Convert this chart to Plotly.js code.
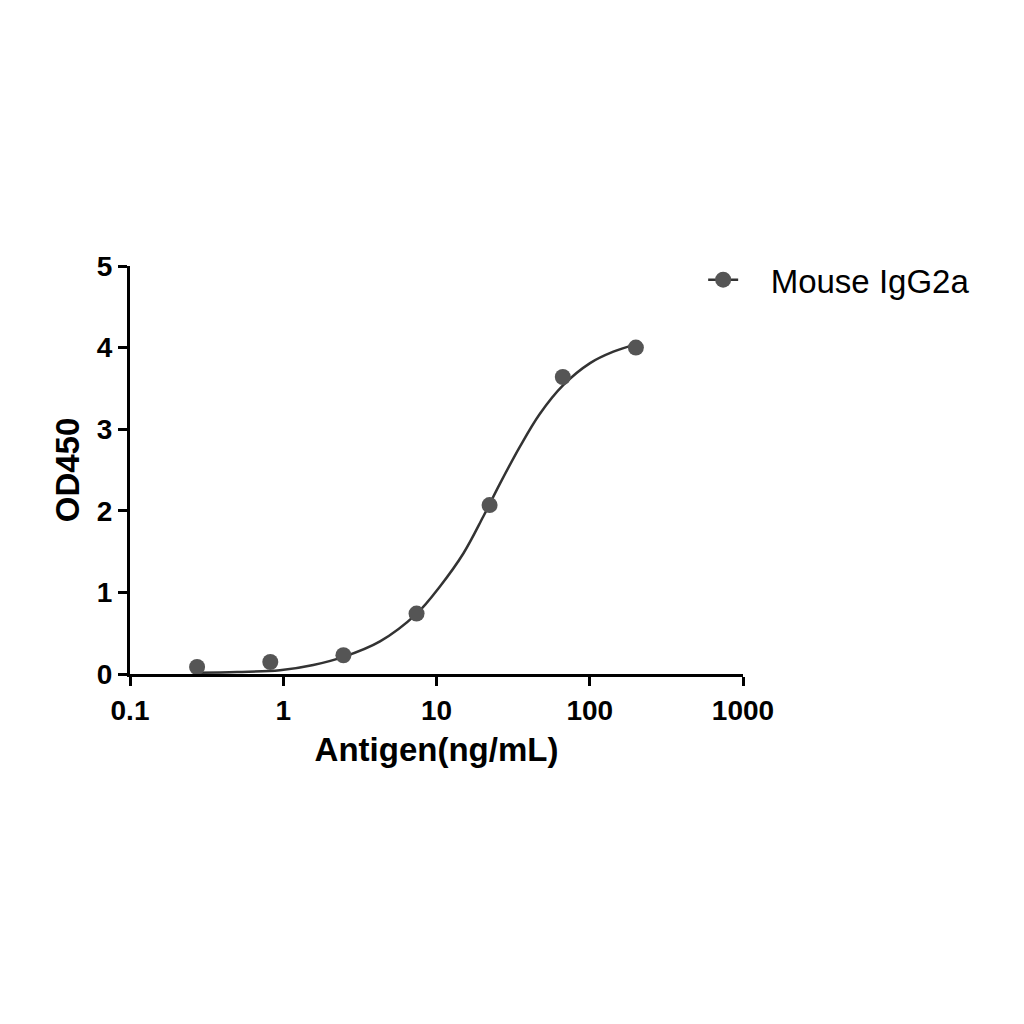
<!DOCTYPE html>
<html>
<head>
<meta charset="utf-8">
<script src="https://cdn.plot.ly/plotly-3.0.1.min.js"></script>
<style>
  html, body { margin: 0; padding: 0; background: #fff; }
  #chart { width: 1024px; height: 1024px; }
</style>
</head>
<body>
<div id="chart"></div>
<script>
// measured points (3-fold dilutions)
var conc = [0.274, 0.823, 2.47, 7.41, 22.2, 66.7, 200];
var od = [0.086, 0.147, 0.23, 0.74, 2.07, 3.64, 4.0];

// fitted curve
var fitX = [0.27, 0.5, 0.95, 1.57, 2.47, 4.28, 7.43, 10.5, 15.0, 20.2, 25.9, 35.1, 47.3, 67.1, 100.5, 142.6, 200];
var fitY = [0.015, 0.025, 0.045, 0.11, 0.21, 0.40, 0.74, 1.07, 1.48, 1.93, 2.33, 2.79, 3.19, 3.54, 3.81, 3.95, 4.04];

var xTicks = [0.1, 1, 10, 100, 1000];
var xTickText = ['0.1', '1', '10', '100', '1000'];
var yTicks = [0, 1, 2, 3, 4, 5];

var seriesName = 'Mouse IgG2a';

var curve = {
  x: fitX, y: fitY,
  type: 'scatter', mode: 'lines',
  line: {color: '#333333', width: 2.5, shape: 'spline', smoothing: 1},
  showlegend: false, hoverinfo: 'skip'
};

var pts = {
  x: conc, y: od,
  type: 'scatter', mode: 'markers',
  marker: {color: '#555555', size: 16},
  showlegend: false
};

// legend entry only (line + marker); nbsp's give the gap before the text
var key = {
  x: [null], y: [null],
  type: 'scatter', mode: 'lines+markers',
  name: '\u00a0\u00a0\u00a0' + seriesName,
  line: {color: '#333333', width: 2.5},
  marker: {color: '#555555', size: 16}
};

var fam = 'Liberation Sans, Arial, sans-serif';
var tickFont = {family: fam, size: 28, color: '#000', weight: 'bold'};
var titleFont = {family: fam, size: 33, color: '#000', weight: 'bold'};

var layout = {
  width: 1024, height: 1024,
  margin: {l: 130, r: 281, t: 266, b: 350},
  paper_bgcolor: '#fff', plot_bgcolor: '#fff',
  font: {family: fam, color: '#000'},
  xaxis: {
    type: 'log', range: [-1, 3],
    tickvals: xTicks, ticktext: xTickText,
    showgrid: false, zeroline: false,
    showline: true, linecolor: '#000', linewidth: 3,
    ticks: 'outside', ticklen: 9, tickwidth: 3, tickcolor: '#000',
    tickfont: tickFont,
    title: {text: 'Antigen(ng/mL)', font: titleFont, standoff: 14}
  },
  yaxis: {
    range: [0, 5],
    tickvals: yTicks,
    showgrid: false, zeroline: false,
    showline: true, linecolor: '#000', linewidth: 3,
    ticks: 'outside', ticklen: 9, tickwidth: 3, tickcolor: '#000',
    tickfont: tickFont,
    title: {text: 'OD450', font: titleFont, standoff: 8}
  },
  legend: {
    x: 0.935, y: 1.035, xanchor: 'left', yanchor: 'top',
    font: {family: fam, size: 33, color: '#000'},
    bgcolor: 'rgba(0,0,0,0)'
  }
};

Plotly.newPlot('chart', [curve, pts, key], layout, {displayModeBar: false, staticPlot: true});
</script>
</body>
</html>
